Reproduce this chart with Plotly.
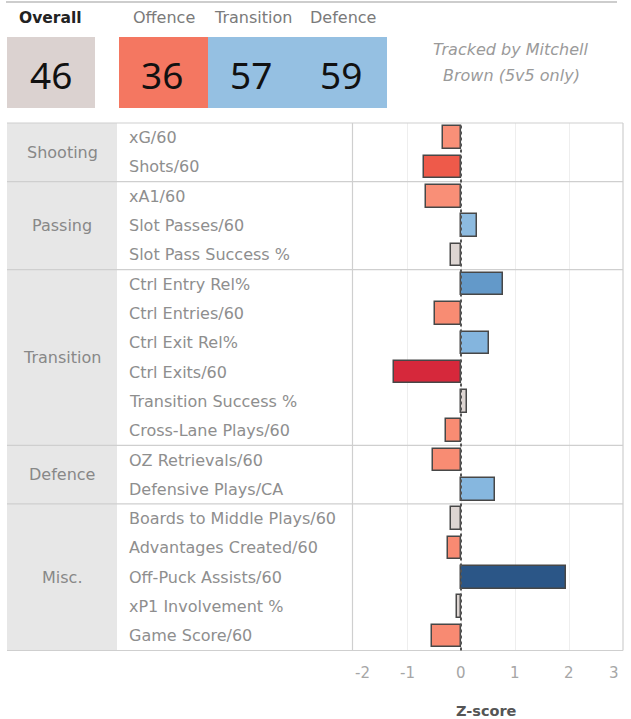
import plotly.graph_objects as go

W, H = 631, 719

# ---------------- data ----------------
metrics = [
    "xG/60", "Shots/60",
    "xA1/60", "Slot Passes/60", "Slot Pass Success %",
    "Ctrl Entry Rel%", "Ctrl Entries/60", "Ctrl Exit Rel%", "Ctrl Exits/60",
    "Transition Success %", "Cross-Lane Plays/60",
    "OZ Retrievals/60", "Defensive Plays/CA",
    "Boards to Middle Plays/60", "Advantages Created/60", "Off-Puck Assists/60",
    "xP1 Involvement %", "Game Score/60",
]
zscores = [
    -0.33, -0.68,
    -0.65, 0.30, -0.19,
    0.77, -0.49, 0.52, -1.25,
    0.11, -0.27,
    -0.51, 0.63,
    -0.19, -0.25, 1.94,
    -0.08, -0.54,
]
bar_colors = [
    "#f99078", "#ee5a4a",
    "#f98f77", "#8dbbe0", "#ddd5d2",
    "#6399c9", "#f88c73", "#84b5de", "#d6283b",
    "#ddd5d2", "#f88c73",
    "#f88c73", "#86b7df",
    "#ddd5d2", "#f88a72", "#2b5687",
    "#ddd5d2", "#f88a72",
]
groups = ["Shooting", "Passing", "Transition", "Defence", "Misc."]
group_sizes = [2, 3, 6, 2, 5]

summary_labels = ["Offence", "Transition", "Defence"]
summary_values = [36, 57, 59]
summary_colors = ["#f47761", "#95c0e2", "#95c0e2"]
overall_value = 46
x_ticks = [-2, -1, 0, 1, 2, 3]

# ---------------- geometry helpers ----------------
def px(x):
    return x / W

def py(y):
    return 1 - y / H

TABLE_TOP, TABLE_BOT = 123, 650.5
CAT_L, CAT_R = 7, 117
PLOT_L, PLOT_R = 353, 623
FONT = "DejaVu Sans"
NUMFONT = "Noto Sans"
n = len(metrics)
row_h = (TABLE_BOT - TABLE_TOP) / n

fig = go.Figure()
fig.add_trace(go.Bar(
    y=list(range(n)), x=zscores, orientation="h",
    width=0.77,
    marker=dict(color=bar_colors, line=dict(color="#474747", width=1.5)),
    hovertext=metrics, hoverinfo="text+x",
))

shapes = []
annotations = []

# top rule
shapes.append(dict(type="line", xref="paper", yref="paper", x0=px(6), x1=px(617),
                   y0=py(2), y1=py(2), line=dict(color="#bdbdbd", width=1.5)))

# header boxes
shapes.append(dict(type="rect", xref="paper", yref="paper", x0=px(7), x1=px(95),
                   y0=py(108), y1=py(37), fillcolor="#dbd2d0", line=dict(width=0), layer="below"))
annotations.append(dict(text="<b>Overall</b>", x=px(50), y=py(18), xref="paper", yref="paper",
                        showarrow=False, font=dict(family=FONT, size=15.5, color="#222"),
                        xanchor="center", yanchor="middle"))
annotations.append(dict(text=str(overall_value), x=px(51), y=py(74), xref="paper", yref="paper",
                        showarrow=False, font=dict(family=NUMFONT, size=37, color="#111"),
                        xanchor="center", yanchor="middle"))
box_edges = [119, 208, 298, 387]
for i, (lab, val, col) in enumerate(zip(summary_labels, summary_values, summary_colors)):
    x0, x1 = box_edges[i], box_edges[i + 1]
    cx = (x0 + x1) / 2
    shapes.append(dict(type="rect", xref="paper", yref="paper", x0=px(x0), x1=px(x1),
                       y0=py(108), y1=py(37), fillcolor=col, line=dict(width=0), layer="below"))
    annotations.append(dict(text=lab, x=px(cx), y=py(18), xref="paper", yref="paper",
                            showarrow=False, font=dict(family=FONT, size=16, color="#7a7a7a"),
                            xanchor="center", yanchor="middle"))
    annotations.append(dict(text=str(val), x=px(cx - 2), y=py(74), xref="paper", yref="paper",
                            showarrow=False, font=dict(family=NUMFONT, size=37, color="#111"),
                            xanchor="center", yanchor="middle"))

annotations.append(dict(text="<i>Tracked by Mitchell</i>", x=px(511), y=py(49), xref="paper", yref="paper",
                        showarrow=False, font=dict(family=FONT, size=16, color="#9a9a9a"),
                        xanchor="center", yanchor="middle"))
annotations.append(dict(text="<i>Brown (5v5 only)</i>", x=px(511), y=py(75), xref="paper", yref="paper",
                        showarrow=False, font=dict(family=FONT, size=16, color="#9a9a9a"),
                        xanchor="center", yanchor="middle"))

# category column background
shapes.append(dict(type="rect", xref="paper", yref="paper", x0=px(CAT_L), x1=px(CAT_R),
                   y0=py(TABLE_BOT), y1=py(TABLE_TOP), fillcolor="#e7e7e7", line=dict(width=0), layer="below"))

# group labels and separators
start = 0
seps = [TABLE_TOP]
for g, size in zip(groups, group_sizes):
    y_top = TABLE_TOP + start * row_h
    y_bot = TABLE_TOP + (start + size) * row_h
    annotations.append(dict(text=g, x=px((CAT_L + CAT_R) / 2), y=py((y_top + y_bot) / 2),
                            xref="paper", yref="paper", showarrow=False,
                            font=dict(family=FONT, size=16, color="#888888"),
                            xanchor="center", yanchor="middle"))
    seps.append(y_bot)
    start += size
for s in seps:
    shapes.append(dict(type="line", xref="paper", yref="paper", x0=px(CAT_L), x1=px(PLOT_R),
                       y0=py(s), y1=py(s), line=dict(color="#cfcfcf", width=1.2)))

# vertical borders
for xv in [PLOT_L - 0.5, PLOT_R]:
    shapes.append(dict(type="line", xref="paper", yref="paper", x0=px(xv), x1=px(xv),
                       y0=py(TABLE_BOT), y1=py(TABLE_TOP), line=dict(color="#cfcfcf", width=1.2)))

# dashed zero line
shapes.append(dict(type="line", xref="x", yref="paper", x0=0, x1=0,
                   y0=py(TABLE_BOT), y1=py(TABLE_TOP), line=dict(color="#555", width=2, dash="3px,3px")))

# row labels
for i, m in enumerate(metrics):
    annotations.append(dict(text=m, x=px(127), y=i, xref="paper", yref="y", showarrow=False,
                            font=dict(family=FONT, size=16, color="#8e8e8e"),
                            xanchor="left", yanchor="middle"))

# x tick labels (edge labels nudged inward as in the reference)
for t in x_ticks:
    shift = 9 if t == x_ticks[0] else (-9 if t == x_ticks[-1] else 0)
    annotations.append(dict(text=str(t), x=t, y=py(673), xref="x", yref="paper", showarrow=False,
                            xshift=shift, font=dict(family=FONT, size=15, color="#a6a6a6"),
                            xanchor="center", yanchor="middle"))

annotations.append(dict(text="<b>Z-score</b>", x=px(486), y=py(711), xref="paper", yref="paper",
                        showarrow=False, font=dict(family=FONT, size=14.5, color="#555"),
                        xanchor="center", yanchor="middle"))

fig.update_layout(
    width=W, height=H,
    margin=dict(l=0, r=0, t=0, b=0),
    paper_bgcolor="white", plot_bgcolor="white",
    showlegend=False,
    shapes=shapes, annotations=annotations,
    bargap=0,
    xaxis=dict(domain=[px(PLOT_L), px(PLOT_R)], range=[-2, 3], tickvals=x_ticks,
               showticklabels=False,
               showgrid=True, gridcolor="#eeeeee", gridwidth=1, zeroline=False, fixedrange=True),
    yaxis=dict(domain=[py(TABLE_BOT), py(TABLE_TOP)], range=[n - 0.5, -0.5],
               showticklabels=False, showgrid=False, zeroline=False, fixedrange=True),
)

fig.write_html("out.html", config={"displayModeBar": False},
               post_script="document.body.style.margin='0';document.body.style.padding='0';")
